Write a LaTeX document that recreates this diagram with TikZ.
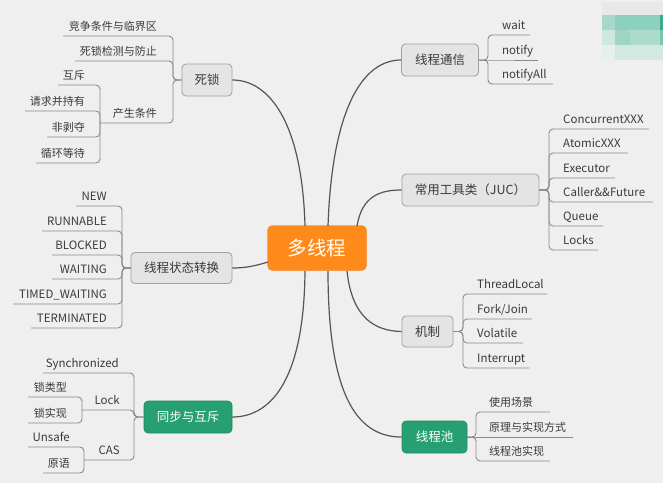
\documentclass[tikz,border=0pt]{standalone}
\usepackage{fontspec}
\setmainfont{Noto Sans CJK SC}
\definecolor{bg}{HTML}{EFEFEF}
\definecolor{lin}{HTML}{555555}
\definecolor{leafc}{HTML}{8A8A8A}
\definecolor{txt}{HTML}{3A3A3A}
\definecolor{grayfill}{HTML}{E4E4E4}
\definecolor{grayedge}{HTML}{A0A0A0}
\definecolor{greenfill}{HTML}{26A072}
\definecolor{orangefill}{HTML}{FF8A1C}
\definecolor{wm0}{HTML}{E6E9E8}
\tikzset{
  conn/.style={draw=lin, line width=1.2pt},
  br/.style={draw=leafc, line width=0.9pt, rounded corners=4pt},
  graynode/.style={draw=grayedge, fill=grayfill, rounded corners=4pt, line width=0.8pt,
    font=\fontsize{12.5}{14}\selectfont, text=txt, inner sep=0pt},
  greennode/.style={draw=greenfill!85!black, fill=greenfill, rounded corners=4pt, line width=0.6pt,
    font=\fontsize{12.5}{14}\selectfont, text=white, inner sep=0pt},
  leafR/.style={anchor=base west, inner sep=0pt, text=txt, font=\fontsize{11}{13}\selectfont, yshift=1.8pt},
  leafL/.style={anchor=base east, inner sep=0pt, text=txt, font=\fontsize{11}{13}\selectfont, yshift=1.8pt},
  lat/.style={font=\fontsize{11.5}{13}\selectfont},
}
\begin{document}
\begin{tikzpicture}[x=1pt,y=-1pt]
\useasboundingbox (0,0) rectangle (663,483);
\fill[bg] (0,0) rectangle (663,483);

% watermark mosaic
\fill[wm0] (602,2) rectangle (663,15);
\fill[color={rgb,255:red,168;green,216;blue,202}] (602,15) rectangle (615,30);
\fill[color={rgb,255:red,140;green,208;blue,190}] (615,15) rectangle (660,30);
\fill[color={rgb,255:red,58;green,170;blue,136}] (660,15) rectangle (663,30);
\fill[color={rgb,255:red,205;green,232;blue,224}] (602,30) rectangle (615,45);
\fill[color={rgb,255:red,160;green,213;blue,197}] (615,30) rectangle (630,45);
\fill[color={rgb,255:red,172;green,218;blue,204}] (630,30) rectangle (660,45);
\fill[color={rgb,255:red,120;green,198;blue,174}] (660,30) rectangle (663,45);
\fill[color={rgb,255:red,228;green,240;blue,236}] (602,45) rectangle (615,60);
\fill[color={rgb,255:red,210;green,233;blue,226}] (615,45) rectangle (663,60);

% center
\node[fill=orangefill, draw=orangefill!90!black, rounded corners=5pt, minimum width=99pt, minimum height=45pt,
  text=white, font=\fontsize{19.5}{22}\selectfont, inner sep=0pt] (c) at (317,248) {多线程};

% main nodes
\node[graynode, minimum width=50pt, minimum height=32pt] (sisuo) at (207,80) {死锁};
\node[graynode, minimum width=77pt, minimum height=32pt] (tongxin) at (440,60) {线程通信};
\node[graynode, minimum width=137pt, minimum height=32pt] (juc) at (470.5,190) {常用工具类（JUC）};
\node[graynode, minimum width=101pt, minimum height=31pt] (zhuangtai) at (181.5,268) {线程状态转换};
\node[graynode, minimum width=51pt, minimum height=31pt] (jizhi) at (427.5,331.5) {机制};
\node[greennode, minimum width=65pt, minimum height=32pt] (chi) at (434.5,437) {线程池};
\node[greennode, minimum width=88pt, minimum height=32pt] (tongbu) at (188,417) {同步与互斥};

% center connectors
\coordinate (ct1) at (305,226);
\coordinate (ct2) at (328,226);
\coordinate (ct3) at (357,226);
\coordinate (cb1) at (305,271);
\coordinate (cb2) at (328,271);
\coordinate (cb3) at (347,271);
\coordinate (cl) at (268,262);
\draw[conn] (ct1) .. controls (302,120) and (268,80) .. (sisuo.east);
\draw[conn] (ct2) .. controls (332,110) and (362,60) .. (tongxin.west);
\draw[conn] (ct3) .. controls (362,196) and (380,190) .. (juc.west);
\draw[conn] (cl) .. controls (255,266) and (245,268) .. (zhuangtai.east);
\draw[conn] (cb1) .. controls (304,385) and (268,417) .. (tongbu.east);
\draw[conn] (cb2) .. controls (328,405) and (362,437) .. (chi.west);
\draw[conn] (cb3) .. controls (352,318) and (375,331) .. (jizhi.west);

% ---- 线程通信
\node[leafR, lat] (l1) at (502,31) {wait};
\node[leafR, lat] (l2) at (502,56) {notify};
\node[leafR, lat] (l3) at (502,80) {notifyAll};
\coordinate (e1) at (530,35);
\coordinate (e2) at (538,60);
\coordinate (e3) at (553,84);
\draw[br] (tongxin.east) -- (488,60) |- (e1);
\draw[br] (tongxin.east) -- (488,60) -- (e2);
\draw[br] (tongxin.east) -- (488,60) |- (e3);

% ---- JUC
\node[leafR, lat] (j1) at (563,125) {ConcurrentXXX};
\node[leafR, lat] (j2) at (563,149) {AtomicXXX};
\node[leafR, lat] (j3) at (563,174) {Executor};
\node[leafR, lat] (j4) at (563,198) {Caller\&\&Future};
\node[leafR, lat] (j5) at (563,222) {Queue};
\node[leafR, lat] (j6) at (563,246) {Locks};
\coordinate (je1) at (649,129);
\coordinate (je2) at (628,153);
\coordinate (je3) at (615,178);
\coordinate (je4) at (653,202);
\coordinate (je5) at (603,226);
\coordinate (je6) at (598,250);
\foreach \e in {je1,je2,je3,je4,je5,je6}
  \draw[br] (juc.east) -- (549,190) |- (\e);

% ---- 机制
\node[leafR, lat] (m1) at (477,290) {ThreadLocal};
\node[leafR, lat] (m2) at (477,315) {Fork/Join};
\node[leafR, lat] (m3) at (477,339) {Volatile};
\node[leafR, lat] (m4) at (477,364) {Interrupt};
\coordinate (me1) at (547,294);
\coordinate (me2) at (532,319);
\coordinate (me3) at (523,343);
\coordinate (me4) at (529,368);
\foreach \e in {me1,me2,me3,me4}
  \draw[br] (jizhi.east) -- (463,331.5) |- (\e);

% ---- 线程池
\node[leafR] (p1) at (489,408) {使用场景};
\node[leafR] (p2) at (489,433) {原理与实现方式};
\node[leafR] (p3) at (489,457) {线程池实现};
\coordinate (pe1) at (550,412);
\coordinate (pe2) at (573,437);
\coordinate (pe3) at (550,461);
\draw[br] (chi.east) -- (476,437) |- (pe1);
\draw[br] (chi.east) -- (476,437) -- (pe2);
\draw[br] (chi.east) -- (476,437) |- (pe3);

% ---- 线程状态转换
\node[leafL, lat] (s1) at (107,202) {NEW};
\node[leafL, lat] (s2) at (107,227) {RUNNABLE};
\node[leafL, lat] (s3) at (107,251) {BLOCKED};
\node[leafL, lat] (s4) at (107,275) {WAITING};
\node[leafL, lat] (s5) at (107,300) {TIMED\_WAITING};
\node[leafL, lat] (s6) at (107,324) {TERMINATED};
\coordinate (se1) at (76,206);
\coordinate (se2) at (42,231);
\coordinate (se3) at (52,255);
\coordinate (se4) at (52,279);
\coordinate (se5) at (13,304);
\coordinate (se6) at (31,328);
\foreach \e in {se1,se2,se3,se4,se5,se6}
  \draw[br] (zhuangtai.west) -- (122,268) |- (\e);

% ---- 死锁
\node[leafL] (d1) at (157,32) {竞争条件与临界区};
\node[leafL] (d2) at (157,57) {死锁检测与防止};
\node[leafL] (d3) at (157,119) {产生条件};
\coordinate (de1) at (63,36);
\coordinate (de2) at (75,61);
\coordinate (de3) at (100,123);
\draw[br] (sisuo.west) -- (173,80) |- (de1);
\draw[br] (sisuo.west) -- (173,80) |- (de2);
\draw[br] (sisuo.west) -- (173,80) |- (de3);
\node[leafL] (d31) at (85,81) {互斥};
\node[leafL] (d32) at (85,107) {请求并持有};
\node[leafL] (d33) at (85,133) {非剥夺};
\node[leafL] (d34) at (85,159) {循环等待};
\coordinate (dd1) at (58,85);
\coordinate (dd2) at (25,111);
\coordinate (dd3) at (47,137);
\coordinate (dd4) at (36,163);
\foreach \e in {dd1,dd2,dd3,dd4}
  \draw[br] (de3) |- (\e);

% ---- 同步与互斥
\node[leafL, lat] (t1) at (119,369) {Synchronized};
\node[leafL, lat] (t2) at (120,406) {Lock};
\node[leafL, lat] (t3) at (120,456) {CAS};
\coordinate (te1) at (43,373);
\coordinate (te2) at (82,410);
\coordinate (te3) at (84,460);
\draw[br] (tongbu.west) -- (134,417) |- (te1);
\draw[br] (tongbu.west) -- (134,417) |- (te2);
\draw[br] (tongbu.west) -- (134,417) |- (te3);
\node[leafL] (t21) at (67,393) {锁类型};
\node[leafL] (t22) at (67,419) {锁实现};
\coordinate (tt1) at (28,397);
\coordinate (tt2) at (28,423);
\draw[br] (te2) |- (tt1);
\draw[br] (te2) |- (tt2);
\node[leafL, lat] (t31) at (70,443) {Unsafe};
\node[leafL] (t32) at (70,469) {原语};
\coordinate (tc1) at (28,447);
\coordinate (tc2) at (43,473);
\draw[br] (te3) |- (tc1);
\draw[br] (te3) |- (tc2);
\end{tikzpicture}
\end{document}
